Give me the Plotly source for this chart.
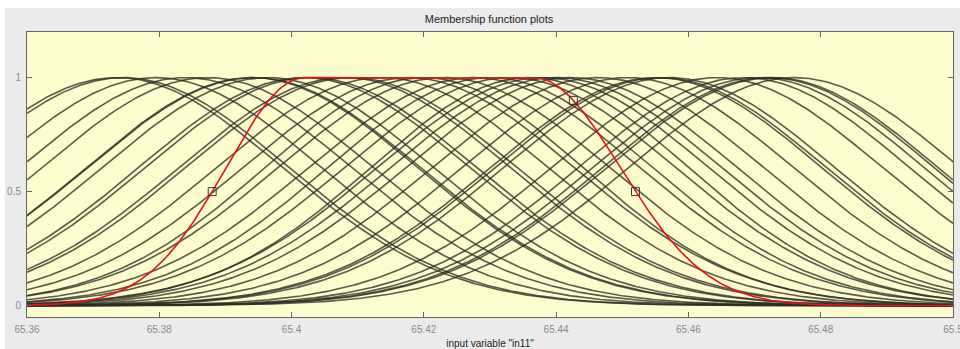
import numpy as np
import plotly.graph_objects as go

# Input range of variable "in11"
x_min, x_max = 65.36, 65.5
x_ticks = [65.36, 65.38, 65.40, 65.42, 65.44, 65.46, 65.48, 65.5]
x_tick_text = ["65.36", "65.38", "65.4", "65.42", "65.44", "65.46", "65.48", "65.5"]
y_ticks = [0, 0.5, 1]
y_tick_text = ["0", "0.5", "1"]

# Gaussian membership functions: centres and widths
mf_centers = [
    65.3736, 65.3746, 65.3795, 65.3840, 65.3873, 65.3940, 65.3943, 65.3964,
    65.4019, 65.4029, 65.4080, 65.4090, 65.4137, 65.4177, 65.4276,
    65.4200, 65.4230, 65.4300, 65.4330, 65.4360, 65.4380, 65.4400,
    65.4423, 65.4463, 65.4508, 65.4551, 65.4558, 65.4571, 65.4643,
    65.4684, 65.4706, 65.4721, 65.4727, 65.4760,
]
mf_sigmas = [
    0.0250, 0.0250, 0.0250, 0.0250, 0.0250, 0.0250, 0.0251, 0.0250,
    0.0250, 0.0250, 0.0250, 0.0250, 0.0250, 0.0250, 0.0250,
    0.0240, 0.0250, 0.0245, 0.0250, 0.0240, 0.0250, 0.0250,
    0.0250, 0.0250, 0.0250, 0.0250, 0.0250, 0.0250, 0.0250,
    0.0250, 0.0250, 0.0250, 0.0250, 0.0250,
]

# Selected MF (two-sided Gaussian): left sigma/centre, right sigma/centre
sel_params = [0.0119, 65.4020, 0.0131, 65.4366]
# Parameter markers on the selected MF
sel_mark_x = [65.3880, 65.4426, 65.4520]
sel_mark_y = [0.50, 0.90, 0.50]

xs = np.linspace(x_min, x_max, 600)


def gaussmf(x, s, c):
    return np.exp(-((x - c) ** 2) / (2 * s ** 2))


def gauss2mf(x, s1, c1, s2, c2):
    left = np.where(x < c1, gaussmf(x, s1, c1), 1.0)
    right = np.where(x > c2, gaussmf(x, s2, c2), 1.0)
    return left * right


fig = go.Figure()

for c, s in zip(mf_centers, mf_sigmas):
    fig.add_trace(go.Scatter(
        x=xs, y=gaussmf(xs, s, c), mode="lines",
        line=dict(color="rgba(45,45,35,0.78)", width=1.6),
        hoverinfo="skip", showlegend=False,
    ))

fig.add_trace(go.Scatter(
    x=xs, y=gauss2mf(xs, *sel_params), mode="lines",
    line=dict(color="#e3141c", width=1.6),
    showlegend=False,
))
fig.add_trace(go.Scatter(
    x=sel_mark_x, y=sel_mark_y, mode="markers",
    marker=dict(symbol="square-open", size=8, color="#3a3a3a", line=dict(width=1)),
    showlegend=False,
))

# Plot-area geometry in pixels
W, H = 960, 349
L, R, T, B = 27, 953, 32, 317
pw, ph = R - L, B - T


def px_to_paper_x(px):
    return (px - L) / pw


def px_to_paper_y(py):
    return (B - py) / ph


fig.add_shape(type="rect", xref="paper", yref="paper",
              x0=px_to_paper_x(5), x1=px_to_paper_x(961),
              y0=px_to_paper_y(350), y1=px_to_paper_y(8),
              fillcolor="#ebebeb", line=dict(width=0), layer="below")
fig.add_shape(type="rect", xref="paper", yref="paper",
              x0=0, x1=1, y0=0, y1=1,
              fillcolor="#fefdcd", line=dict(width=0), layer="below")

axis_font = dict(family="Liberation Sans, Arial, sans-serif", size=10, color="#8a8a8a")

fig.update_xaxes(
    range=[x_min, x_max + 1e-6], tickvals=x_ticks, ticktext=x_tick_text,
    ticks="inside", ticklen=5, tickcolor="#666", mirror="ticks",
    showline=True, linecolor="#666", linewidth=1, showgrid=False,
    zeroline=False, tickfont=axis_font, ticklabelstandoff=3,
    ticklabeloverflow="allow", automargin=False,
    title=dict(text='input variable "in11"', standoff=5,
               font=dict(family="Liberation Sans, Arial, sans-serif", size=10, color="#222")),
)
fig.update_yaxes(
    range=[-0.05, 1.2], tickvals=y_ticks, ticktext=y_tick_text,
    ticks="inside", ticklen=5, tickcolor="#666", mirror="ticks",
    showline=True, linecolor="#666", linewidth=1, showgrid=False,
    zeroline=False, tickfont=axis_font, ticklabelstandoff=3, automargin=False,
)

fig.update_layout(
    width=W, height=H,
    margin=dict(l=L, r=W - R, t=T, b=H - B),
    paper_bgcolor="white", plot_bgcolor="rgba(0,0,0,0)",
    title=dict(text="Membership function plots", x=(489 / W), xanchor="center",
               y=1 - 19 / H, yanchor="middle",
               font=dict(family="Liberation Sans, Arial, sans-serif", size=11, color="#222")),
    showlegend=False,
)

fig.write_html("out.html")
